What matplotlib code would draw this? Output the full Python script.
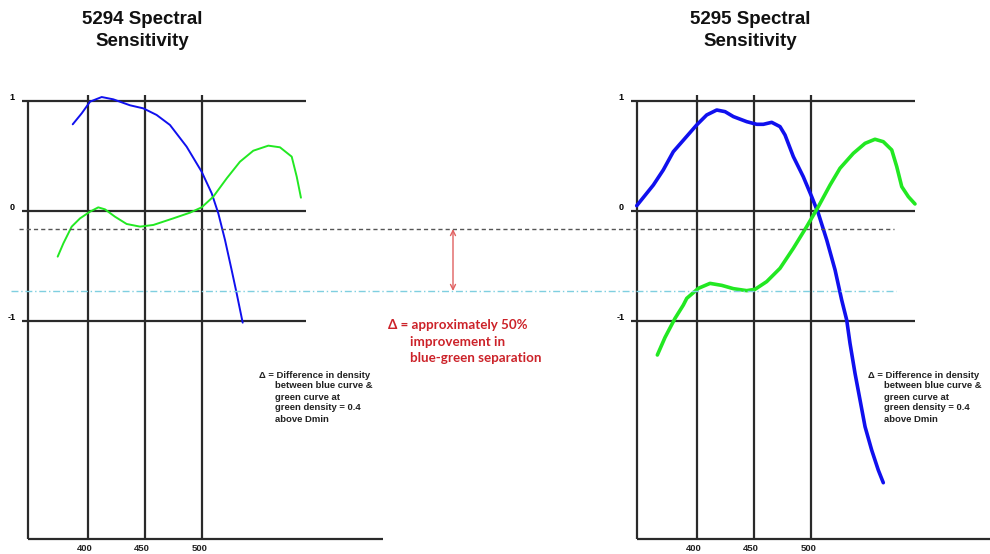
import matplotlib.pyplot as plt

plt.rcParams['font.family'] = ['Liberation Sans', 'DejaVu Sans']

# 5294 spectral sensitivity (wavelength nm, relative density)
wl_5294_blue = [386.6, 394.5, 401.8, 412.0, 422.2, 436.8, 448.5, 460.2, 471.9,
                486.5, 499.7, 508.5, 514.3, 520.2, 526.0, 530.4, 535.7]
d_5294_blue = [0.788, 0.888, 0.994, 1.036, 1.015, 0.961, 0.933, 0.873, 0.782,
               0.585, 0.357, 0.161, -0.021, -0.264, -0.536, -0.748, -1.015]
wl_5294_green = [373.4, 378.4, 385.7, 393.0, 401.8, 409.0, 414.9, 423.7, 433.9,
                 445.6, 457.3, 474.8, 489.5, 499.7, 509.9, 521.7, 533.3, 545.0,
                 558.2, 568.4, 578.7, 583.1, 586.8]
d_5294_green = [-0.415, -0.294, -0.142, -0.067, -0.006, 0.033, 0.015, -0.052,
                -0.118, -0.142, -0.127, -0.067, -0.015, 0.033, 0.130, 0.297,
                0.448, 0.548, 0.594, 0.579, 0.494, 0.312, 0.121]

# 5295 spectral sensitivity
wl_5295_blue = [347.1, 361.7, 370.4, 379.2, 389.5, 399.7, 408.5, 417.3, 424.6,
                431.9, 443.6, 452.4, 458.2, 465.5, 472.8, 477.2, 484.5, 493.2,
                500.6, 506.4, 513.8, 521.1, 526.9, 531.3, 534.2, 538.6, 543.0,
                547.4, 553.2, 559.0, 563.4]
d_5295_blue = [0.048, 0.236, 0.373, 0.539, 0.661, 0.782, 0.873, 0.918, 0.903,
               0.858, 0.812, 0.788, 0.788, 0.806, 0.767, 0.691, 0.494, 0.312,
               0.130, -0.021, -0.264, -0.536, -0.809, -0.991, -1.203, -1.476,
               -1.718, -1.961, -2.173, -2.355, -2.470]
wl_5295_green = [365.2, 371.9, 380.7, 388.0, 391.0, 401.2, 411.4, 421.7, 431.9,
                 443.6, 450.9, 461.1, 472.8, 484.5, 496.2, 506.4, 516.7, 525.4,
                 537.1, 547.4, 556.1, 563.4, 570.8, 575.2, 579.6, 585.4, 591.2]
d_5295_green = [-1.309, -1.150, -0.976, -0.855, -0.794, -0.703, -0.658, -0.676,
                -0.706, -0.724, -0.712, -0.642, -0.521, -0.339, -0.142, 0.039,
                0.236, 0.388, 0.524, 0.615, 0.652, 0.630, 0.555, 0.403, 0.221,
                0.130, 0.064]

GRID_WL = [400, 450, 500]
GRID_D = [1, 0, -1]
DELTA_LEVELS = [-0.164, -0.727]   # blue/green density at green = 0.4 above Dmin

NOTE_LINES = ["Δ = Difference in density", "between blue curve &", "green curve at",
              "green density = 0.4", "above Dmin"]
RED_LINES = ["Δ = approximately 50%", "improvement in", "blue-green separation"]

W, H = 990, 554
Y_LIM = (-3.118, 1.918)
AX_BOTTOM = -2.98
WL_START = 347.4


def draw_panel(ax, wl_b, d_b, wl_g, d_g, lw, x_end):
    ax.set_ylim(*Y_LIM)
    ax.axis('off')
    k = dict(color='#2a2a2a', lw=1.6, solid_capstyle='butt', zorder=1)
    for d in GRID_D:
        ax.plot([342, 591], [d, d], **k)
        ax.text(333.3, d + 0.035, str(d), fontsize=6.5, fontweight='bold',
                ha='center', va='center')
    for w in GRID_WL:
        ax.plot([w, w], [1.055, AX_BOTTOM], **k)
        ax.text(w - 2.5, -3.07, str(w), fontsize=6.8, fontweight='bold',
                ha='center', va='center', color='#222222')
    ax.plot([WL_START, WL_START], [1.01, AX_BOTTOM], **k)
    ax.plot([WL_START, x_end], [AX_BOTTOM, AX_BOTTOM], **k)

    ax.plot(wl_b, d_b, color='#1010ee', lw=lw, zorder=3,
            solid_capstyle='round', solid_joinstyle='round')
    ax.plot(wl_g, d_g, color='#22e822', lw=lw, zorder=3,
            solid_capstyle='round', solid_joinstyle='round')


fig = plt.figure(figsize=(W / 100, H / 100), dpi=100)

ax1 = fig.add_axes([0, 0, 400 / W, 1])
ax1.set_xlim(322.8, 673.7)
draw_panel(ax1, wl_5294_blue, d_5294_blue, wl_5294_green, d_5294_green, 1.4, 659)

ax2 = fig.add_axes([600 / W, 0, 390 / W, 1])
ax2.set_xlim(314.9, 657.0)
draw_panel(ax2, wl_5295_blue, d_5295_blue, wl_5295_green, d_5295_green, 2.6, 700)

# overlay: x in pixels, y in density
ov = fig.add_axes([0, 0, 1, 1])
ov.set_xlim(0, W)
ov.set_ylim(*Y_LIM)
ov.axis('off')
ov.plot([19, 894], [DELTA_LEVELS[0]] * 2, color='#555555', lw=1.0,
        dashes=(3, 2.2), zorder=2)
ov.plot([11, 896], [DELTA_LEVELS[1]] * 2, color='#7fcfe0', lw=1.0,
        linestyle=(0, (5, 2, 1, 2)), zorder=2)
ov.annotate('', xy=(453, DELTA_LEVELS[1]), xytext=(453, DELTA_LEVELS[0]),
            arrowprops=dict(arrowstyle='<->', color='#e06060', lw=1.0,
                            shrinkA=0, shrinkB=0, mutation_scale=9))

for cx, num in [(142, "5294"), (750, "5295")]:
    fig.text(cx / W, 1 - 19 / H, f"{num} Spectral", fontsize=13.5, fontweight='bold',
             ha='center', va='center', color='#111111')
    fig.text(cx / W, 1 - 42 / H, "Sensitivity", fontsize=13.5, fontweight='bold',
             ha='center', va='center', color='#111111')

for x0 in (259, 868):
    for i, line in enumerate(NOTE_LINES):
        x = x0 if i == 0 else x0 + 16
        fig.text(x / W, 1 - (375 + 11 * i) / H, line, fontsize=6.8,
                 fontweight='bold', ha='left', va='center', color='#222222')

for i, line in enumerate(RED_LINES):
    x = 388 if i == 0 else 410
    fig.text(x / W, 1 - (325 + 16.5 * i) / H, line, fontsize=9.6, fontweight='bold',
             color='#cc2229', family=['Lato', 'DejaVu Sans'], ha='left', va='center')

fig.savefig('out.png', dpi=100, facecolor='white')
